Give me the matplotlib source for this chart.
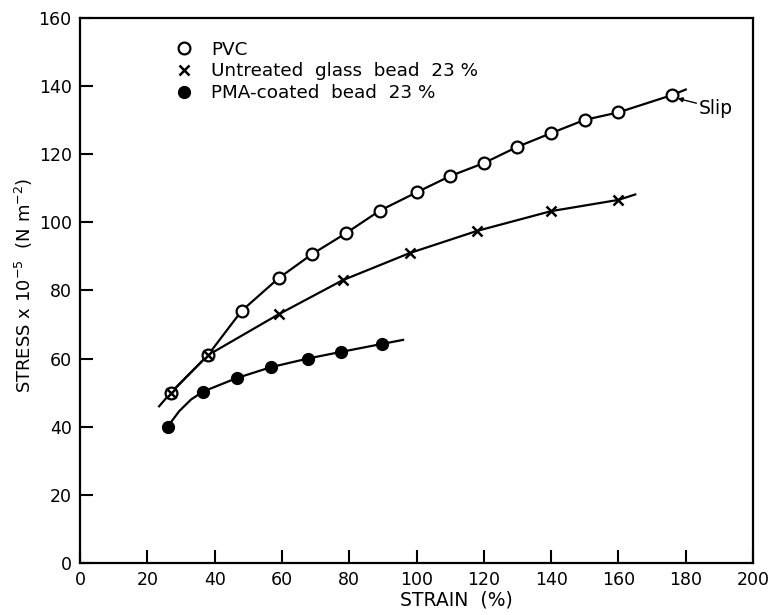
import matplotlib
matplotlib.use("Agg")
import matplotlib.pyplot as plt
from matplotlib.lines import Line2D

plt.rcParams['font.family'] = ['DejaVu Sans']

# PVC
pvc_x = [27, 38, 48, 59, 69, 79, 89, 100, 110, 120, 130, 140, 150, 160, 176]
pvc_y = [50, 61, 74, 83.6, 90.7, 96.8, 103.4, 108.8, 113.6, 117.4, 122.2, 126.2, 130.1, 132.3, 137.4]
pvc_line_x = [27, 38, 48, 59, 69, 79, 89, 100, 110, 120, 130, 140, 150, 160, 176, 180]
pvc_line_y = [50, 61, 74, 83.6, 90.7, 96.8, 103.4, 108.8, 113.6, 117.4, 122.2, 126.2, 130.1, 132.3, 137.4, 139]

# Untreated glass bead 23%
unt_x = [27, 38, 59, 78, 98, 118, 140, 160]
unt_y = [50, 61, 73, 83, 91, 97.5, 103.3, 106.6]
unt_line_x = [23.5, 27, 38, 59, 78, 98, 118, 140, 160, 165]
unt_line_y = [46, 50, 61, 73, 83, 91, 97.5, 103.3, 106.6, 108.2]

# PMA-coated bead 23%
pma_x = [26, 36.5, 46.6, 56.8, 67.6, 77.7, 89.7]
pma_y = [40, 50.3, 54.3, 57.5, 60, 62, 64.3]
pma_line_x = [26, 29.5, 33, 36.5, 46.6, 56.8, 67.6, 77.7, 89.7, 96]
pma_line_y = [40, 44.6, 48.0, 50.3, 54.3, 57.5, 60, 62, 64.3, 65.5]

xticks = [0, 20, 40, 60, 80, 100, 120, 140, 160, 180, 200]
yticks = [0, 20, 40, 60, 80, 100, 120, 140, 160]

fig = plt.figure(figsize=(7.71, 6.15), dpi=100)
ax = fig.add_axes([0.1038, 0.0846, 0.8729, 0.8861])

lw = 1.6
ax.plot(pvc_line_x, pvc_line_y, color='black', lw=lw, zorder=2)
ax.plot(unt_line_x, unt_line_y, color='black', lw=lw, zorder=2)
ax.plot(pma_line_x, pma_line_y, color='black', lw=lw, zorder=2)

ax.plot(pvc_x, pvc_y, ls='none', marker='o', ms=8.5, mfc='white', mec='black', mew=1.6, zorder=3)
ax.plot(unt_x, unt_y, ls='none', marker='x', ms=7, mec='black', mew=1.8, zorder=4)
ax.plot(pma_x, pma_y, ls='none', marker='o', ms=8.5, mfc='black', mec='black', zorder=3)

ax.annotate('Slip', xy=(177.6, 136.4), xytext=(184, 133.5), fontsize=13.5,
            arrowprops=dict(arrowstyle='-|>', color='black', lw=1.0, mutation_scale=7,
                            shrinkA=0, shrinkB=0),
            ha='left', va='center')

ax.set_xlim(0, 200)
ax.set_ylim(0, 160)
ax.set_xticks(xticks)
ax.set_yticks(yticks)
ax.tick_params(direction='in', length=9.5, width=1.5, labelsize=12.5, pad=6)
for s in ax.spines.values():
    s.set_linewidth(1.6)

ax.set_xlabel('STRAIN  (%)', fontsize=13.5)
ax.xaxis.set_label_coords(0.559, -0.05)
ax.set_ylabel('STRESS x 10$^{-5}$  (N m$^{-2}$)', fontsize=13)
ax.yaxis.set_label_coords(-0.067, 0.51)

handles = [
    Line2D([], [], ls='none', marker='o', ms=8.5, mfc='white', mec='black', mew=1.6),
    Line2D([], [], ls='none', marker='x', ms=7, mec='black', mew=1.8),
    Line2D([], [], ls='none', marker='o', ms=8.5, mfc='black', mec='black'),
]
labels = ['PVC', 'Untreated  glass  bead  23 %', 'PMA-coated  bead  23 %']
ax.legend(handles, labels, loc='upper left', bbox_to_anchor=(0.133, 0.972), frameon=False,
          fontsize=13.2, handlelength=0.8, handletextpad=1.05, labelspacing=0.2,
          borderaxespad=0)

fig.savefig('out.png', dpi=100)
